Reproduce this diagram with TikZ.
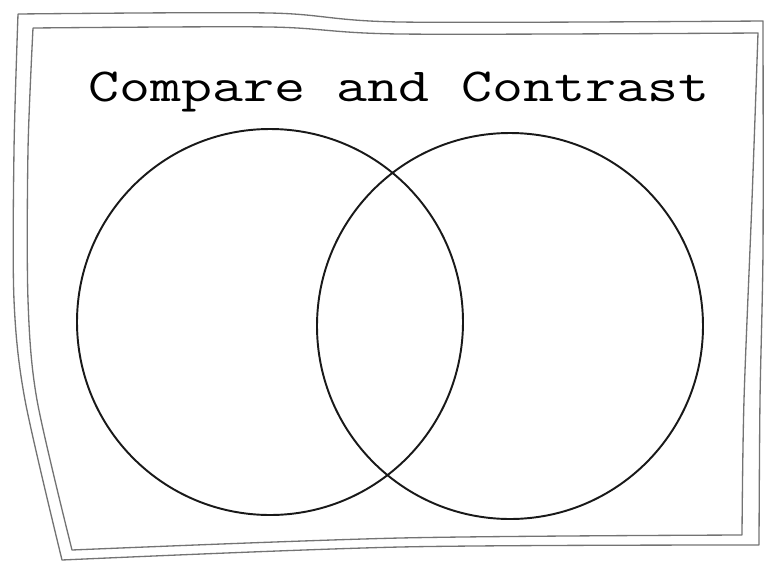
\documentclass[tikz,border=0pt]{standalone}
\usepackage{fontspec}
\tikzset{
	frameline/.style={black!55, line width=0.75pt, line join=round},
	ring/.style={black!90, line width=1.1pt},
	heading/.style={font=\ttfamily\fontsize{27}{30}\selectfont, text=black, inner sep=0pt, anchor=base, xscale=1.27}
}

\begin{document}
\begin{tikzpicture}[x=0.02cm, y=-0.02cm]
		\useasboundingbox (0,0) rectangle (765,562);
		
		% outer frame
		\draw[frameline] plot[smooth, tension=0.5] coordinates {(18,14) (270,13) (400,22) (763,21)}
			-- plot[smooth, tension=0.5] coordinates {(763,21) (763,250) (760,400) (759,545)}
			-- plot[smooth, tension=0.5] coordinates {(759,545) (400,547) (62,560)}
			-- plot[smooth, tension=0.5] coordinates {(62,560) (25,400) (14,300) (14,150) (18,14)};
		
		% inner frame
		\draw[frameline] plot[smooth, tension=0.5] coordinates {(33,28) (270,27) (400,34) (758,33)}
			-- plot[smooth, tension=0.5] coordinates {(758,33) (752,200) (744,400) (742,535)}
			-- plot[smooth, tension=0.5] coordinates {(742,535) (400,538) (72,550)}
			-- plot[smooth, tension=0.5] coordinates {(72,550) (37,400) (28,300) (28,150) (33,28)};
		
		% title
		\node[heading] (title) at (399,101) {Compare and Contrast};
		
		% the two sets
		\draw[ring] (270,322) circle (193);
		\draw[ring] (510,326) circle (193);
	\end{tikzpicture}
\end{document}
